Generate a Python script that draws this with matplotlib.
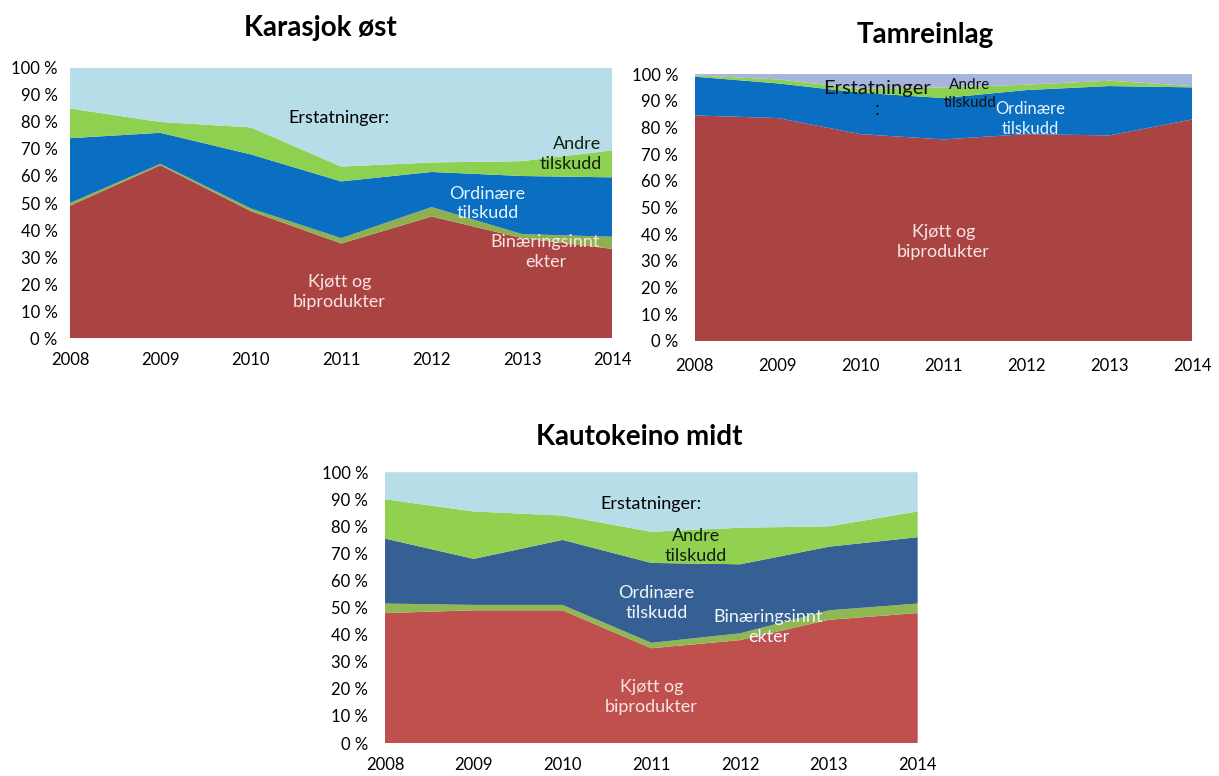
import numpy as np
import matplotlib
matplotlib.use("Agg")
import matplotlib.pyplot as plt

# år på x-aksen
years = [2008, 2009, 2010, 2011, 2012, 2013, 2014]
layer_names = ["Kjøtt og biprodukter", "Binæringsinntekter", "Ordinære tilskudd",
               "Andre tilskudd", "Erstatninger"]

# Karasjok øst - andel i prosent per kategori
kar_kjott = [49, 64, 47, 35, 45, 37, 33]
kar_binaer = [1, 0.5, 1, 2, 3.5, 1.5, 4.5]
kar_ordinaere = [24, 11.5, 20, 21, 13, 21.5, 22]
kar_andre = [11, 4, 10, 5.5, 3.5, 5.5, 10]
kar_erstatn = [15, 20, 22, 36.5, 35, 34.5, 30.5]

# Tamreinlag
tam_kjott = [84.5, 83.5, 77.5, 75.5, 77.5, 77, 83]
tam_binaer = [0, 0, 0, 0, 0, 0, 0]
tam_ordinaere = [14.5, 13, 15.5, 15.5, 16.5, 18.5, 12]
tam_andre = [0.5, 1.5, 1.5, 4, 2, 2, 0.5]
tam_erstatn = [0.5, 2, 5.5, 5, 4, 2.5, 4.5]

# Kautokeino midt
kau_kjott = [48, 49, 49, 35, 38, 45.5, 48]
kau_binaer = [3.5, 2, 2, 2, 2.5, 3.5, 3.5]
kau_ordinaere = [24, 17, 24, 29.5, 25.5, 23.5, 24.5]
kau_andre = [14.5, 17.5, 9, 11.5, 13.5, 7.5, 9.5]
kau_erstatn = [10, 14.5, 16, 22, 20.5, 20, 14.5]

pct_ticks = list(range(0, 101, 10))

plt.rcParams['font.family'] = ['Lato', 'DejaVu Sans']

fig = plt.figure(figsize=(12.19, 7.76), dpi=100)


def draw_chart(rect, title, data, colors, labels, title_xy, ypad, xpad):
    ax = fig.add_axes(rect)
    ax.stackplot(years, *data, colors=colors, linewidth=0)
    ax.set_xlim(years[0], years[-1])
    ax.set_ylim(0, 100)
    ax.set_yticks(pct_ticks)
    ax.set_yticklabels([f"{v} %" for v in pct_ticks])
    ax.set_xticks(years)
    ax.tick_params(length=0, labelsize=12)
    ax.tick_params(axis='y', pad=ypad)
    ax.tick_params(axis='x', pad=xpad)
    for s in ax.spines.values():
        s.set_visible(False)
    for txt, x, y, col, fs, ha in labels:
        ax.text(x, y, txt, color=col, fontsize=fs, ha=ha, va='center',
                linespacing=1.3)
    fig.text(title_xy[0], title_xy[1], title, fontsize=20, fontweight='bold',
             ha='center', va='center')
    return ax


col1 = ['#A94442', '#8FB04E', '#0A6FC2', '#8ED150', '#B7DDE8']
col2 = ['#A94442', '#8FB04E', '#0A6FC2', '#8ED150', '#A7B5DD']
col3 = ['#C0504D', '#8FB853', '#366093', '#92D050', '#B7DDE8']

draw_chart([0.0574, 0.5644, 0.445, 0.348], "Karasjok øst",
           [kar_kjott, kar_binaer, kar_ordinaere, kar_andre, kar_erstatn], col1,
           [("Erstatninger:", 2010.98, 81.5, 'black', 13, 'center'),
            ("Andre\ntilskudd", 2013.88, 68, '#102010', 13, 'right'),
            ("Ordinære\ntilskudd", 2012.62, 49.8, '#E8F4FF', 13, 'center'),
            ("Binæringsinnt\nekter", 2013.26, 32, '#F8E4E4', 13, 'center'),
            ("Kjøtt og\nbiprodukter", 2010.98, 17, '#F8E4E4', 13, 'center')],
           (0.263, 0.964), 9, 10)

draw_chart([0.570, 0.5606, 0.408, 0.344], "Tamreinlag",
           [tam_kjott, tam_binaer, tam_ordinaere, tam_andre, tam_erstatn], col2,
           [("Erstatninger\n:", 2010.2, 90.5, '#101010', 14.5, 'center'),
            ("Andre\ntilskudd", 2011.32, 92.5, '#101010', 11, 'center'),
            ("Ordinære\ntilskudd", 2012.05, 83, '#E8F4FF', 12, 'center'),
            ("Kjøtt og\nbiprodukter", 2011.0, 37, '#F8E4E4', 13, 'center')],
           (0.759, 0.955), 12, 12)

draw_chart([0.3158, 0.0425, 0.437, 0.349], "Kautokeino midt",
           [kau_kjott, kau_binaer, kau_ordinaere, kau_andre, kau_erstatn], col3,
           [("Erstatninger:", 2011.0, 88.1, 'black', 13, 'center'),
            ("Andre\ntilskudd", 2011.5, 72.8, '#102010', 13, 'center'),
            ("Ordinære\ntilskudd", 2011.06, 51.7, '#F2F6FF', 13, 'center'),
            ("Binæringsinnt\nekter", 2012.32, 42.7, '#F2F6FF', 13, 'center'),
            ("Kjøtt og\nbiprodukter", 2011.0, 16.9, '#F8E4E4', 13, 'center')],
           (0.524, 0.437), 12, 10)

fig.savefig("out.png", dpi=100)
